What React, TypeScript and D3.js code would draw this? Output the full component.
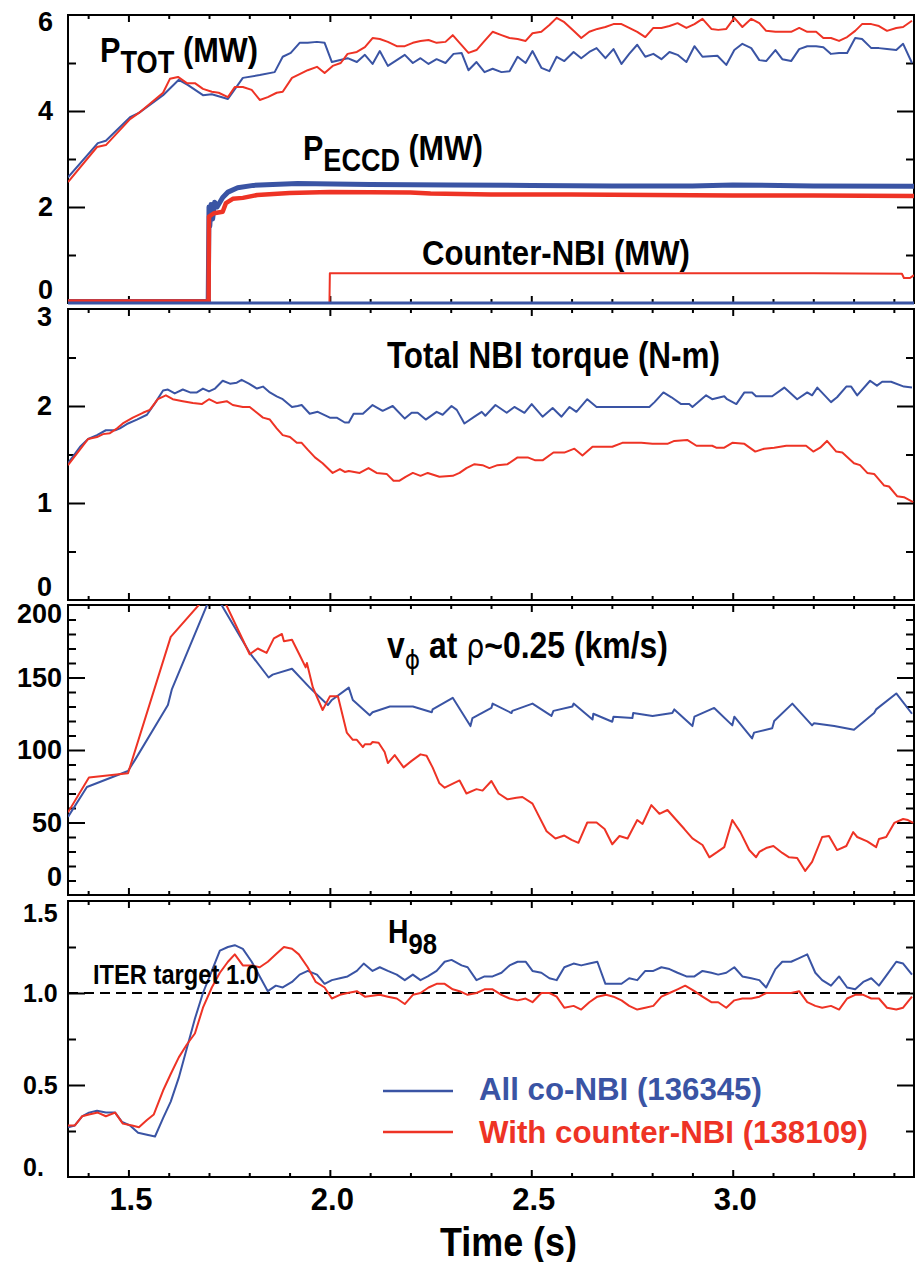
// Four stacked time traces: heating power, NBI torque, rotation and H98
import React, { useEffect, useRef } from 'react'
import * as d3 from 'd3'

const BLUE = '#3a54a4'
const RED = '#ee3325'
const SANS = "'Liberation Sans', Arial, sans-serif"
const GREEK = "'DejaVu Sans', sans-serif"

// all series are [time (s), value]
const ptotCo = [
  [1.35, 2.62], [1.424, 3.33], [1.444, 3.38], [1.504, 3.87], [1.526, 3.96], [1.586, 4.33], [1.625, 4.65],
  [1.648, 4.54], [1.685, 4.33], [1.707, 4.35], [1.747, 4.25], [1.784, 4.69], [1.826, 4.75], [1.863, 4.81],
  [1.883, 5.13], [1.903, 5.21], [1.925, 5.42], [1.945, 5.42], [1.968, 5.44], [1.987, 5.42], [2.005, 5.02],
  [2.044, 5.1], [2.067, 5.02], [2.087, 5.17], [2.106, 4.98], [2.124, 5.25], [2.144, 4.94], [2.166, 5.06],
  [2.186, 5.17], [2.206, 5.0], [2.225, 5.1], [2.245, 4.98], [2.265, 5.08], [2.287, 5.0], [2.307, 5.19],
  [2.327, 5.21], [2.344, 4.85], [2.364, 5.02], [2.384, 4.81], [2.404, 4.88], [2.426, 4.81], [2.446, 4.83],
  [2.466, 5.13], [2.486, 5.0], [2.503, 5.25], [2.525, 4.9], [2.545, 4.83], [2.563, 5.13], [2.582, 5.04],
  [2.605, 5.23], [2.624, 5.1], [2.644, 5.23], [2.662, 5.31], [2.684, 5.1], [2.704, 5.29], [2.724, 4.98],
  [2.743, 5.19], [2.763, 5.38], [2.783, 5.13], [2.803, 5.19], [2.823, 5.08], [2.843, 5.23], [2.863, 5.17],
  [2.885, 5.02], [2.905, 5.35], [2.925, 5.13], [2.962, 5.15], [2.984, 4.96], [3.004, 5.27], [3.024, 5.4],
  [3.046, 5.31], [3.066, 5.06], [3.083, 5.04], [3.106, 5.27], [3.123, 5.08], [3.145, 5.04], [3.165, 5.29],
  [3.185, 5.35], [3.207, 5.35], [3.225, 5.33], [3.244, 5.19], [3.264, 5.21], [3.284, 5.21], [3.304, 5.52],
  [3.321, 5.5], [3.344, 5.31], [3.363, 5.31], [3.383, 5.29], [3.406, 5.27], [3.423, 5.4], [3.445, 5.0],
]
const ptotCounter = [
  [1.35, 2.52], [1.422, 3.25], [1.444, 3.29], [1.504, 3.83], [1.526, 3.96], [1.586, 4.38], [1.603, 4.67],
  [1.623, 4.71], [1.645, 4.58], [1.665, 4.58], [1.685, 4.46], [1.707, 4.4], [1.724, 4.38], [1.747, 4.29],
  [1.764, 4.5], [1.784, 4.5], [1.806, 4.44], [1.826, 4.23], [1.846, 4.29], [1.868, 4.38], [1.883, 4.4],
  [1.906, 4.69], [1.925, 4.77], [1.945, 4.85], [1.968, 4.92], [1.987, 4.79], [2.007, 4.94], [2.027, 5.0],
  [2.044, 5.19], [2.067, 5.23], [2.087, 5.33], [2.106, 5.52], [2.124, 5.5], [2.144, 5.44], [2.166, 5.35],
  [2.186, 5.35], [2.206, 5.42], [2.225, 5.46], [2.245, 5.48], [2.265, 5.42], [2.287, 5.44], [2.305, 5.58],
  [2.322, 5.42], [2.344, 5.21], [2.364, 5.27], [2.384, 5.46], [2.404, 5.65], [2.426, 5.58], [2.446, 5.52],
  [2.466, 5.5], [2.486, 5.46], [2.503, 5.62], [2.525, 5.65], [2.545, 5.79], [2.563, 5.94], [2.582, 5.85],
  [2.605, 5.67], [2.624, 5.52], [2.644, 5.65], [2.664, 5.71], [2.684, 5.75], [2.704, 5.81], [2.724, 5.81],
  [2.743, 5.73], [2.763, 5.65], [2.783, 5.54], [2.803, 5.73], [2.823, 5.73], [2.843, 5.77], [2.863, 5.83],
  [2.885, 5.73], [2.905, 5.81], [2.925, 5.92], [2.947, 5.71], [2.964, 5.69], [2.984, 5.71], [3.004, 5.94],
  [3.024, 5.75], [3.046, 5.92], [3.066, 5.83], [3.083, 5.67], [3.106, 5.65], [3.145, 5.65], [3.165, 5.73],
  [3.185, 5.65], [3.207, 5.65], [3.225, 5.52], [3.244, 5.52], [3.264, 5.46], [3.284, 5.54], [3.304, 5.67],
  [3.321, 5.81], [3.344, 5.81], [3.363, 5.77], [3.383, 5.67], [3.406, 5.73], [3.423, 5.75], [3.445, 5.88],
]
const eccdCo = [
  [1.35, 0.03], [1.698, 0.03], [1.7, 2.0], [1.702, 1.6], [1.705, 2.05], [1.709, 1.75], [1.714, 2.1],
  [1.72, 2.0], [1.734, 2.2], [1.747, 2.31], [1.771, 2.4], [1.81, 2.45], [1.92, 2.49], [2.1, 2.47],
  [2.3, 2.46], [2.5, 2.45], [2.7, 2.44], [2.9, 2.44], [3.0, 2.46], [3.2, 2.44], [3.45, 2.43],
]
const eccdCounter = [
  [1.35, 0.03], [1.699, 0.03], [1.7, 1.8], [1.712, 1.87], [1.734, 1.9], [1.742, 2.08], [1.759, 2.17],
  [1.784, 2.19], [1.82, 2.25], [1.9, 2.29], [2.0, 2.31], [2.2, 2.3], [2.25, 2.28], [2.4, 2.26],
  [2.6, 2.26], [2.8, 2.25], [3.0, 2.24], [3.2, 2.24], [3.45, 2.23],
]
const counterNbiCo = [[1.35, 0], [3.45, 0]]
const counterNbiCounter = [
  [1.35, 0], [1.999, 0], [2.0, 0.62], [3.2, 0.62], [3.42, 0.61], [3.425, 0.52], [3.44, 0.52], [3.45, 0.58],
]

const torqueCo = [
  [1.35, 1.41], [1.38, 1.58], [1.4, 1.66], [1.422, 1.7], [1.444, 1.75], [1.467, 1.75], [1.479, 1.77],
  [1.499, 1.82], [1.521, 1.86], [1.546, 1.91], [1.566, 2.03], [1.586, 2.16], [1.598, 2.17], [1.615, 2.13],
  [1.635, 2.17], [1.653, 2.14], [1.67, 2.14], [1.685, 2.18], [1.7, 2.15], [1.715, 2.18], [1.734, 2.26],
  [1.752, 2.23], [1.769, 2.24], [1.781, 2.27], [1.799, 2.23], [1.819, 2.18], [1.834, 2.2], [1.851, 2.14],
  [1.868, 2.1], [1.883, 2.07], [1.906, 1.99], [1.92, 2.0], [1.93, 2.01], [1.95, 1.92], [1.97, 1.94],
  [2.0, 1.88], [2.017, 1.88], [2.037, 1.83], [2.047, 1.83], [2.059, 1.92], [2.082, 1.92], [2.106, 2.01],
  [2.131, 1.95], [2.156, 2.0], [2.186, 1.87], [2.203, 1.93], [2.218, 1.93], [2.238, 1.86], [2.265, 1.94],
  [2.28, 1.91], [2.302, 2.0], [2.315, 1.96], [2.334, 1.82], [2.359, 1.89], [2.377, 1.94], [2.386, 1.9],
  [2.411, 2.01], [2.439, 1.93], [2.458, 1.99], [2.483, 1.93], [2.501, 2.02], [2.528, 1.89], [2.553, 1.98],
  [2.575, 1.89], [2.595, 1.99], [2.612, 1.94], [2.639, 2.07], [2.662, 1.99], [2.726, 1.99], [2.793, 1.99],
  [2.806, 2.04], [2.828, 2.14], [2.848, 2.09], [2.872, 2.02], [2.892, 2.02], [2.9, 1.99], [2.934, 2.11],
  [2.949, 2.07], [2.979, 2.1], [2.986, 2.07], [3.009, 2.02], [3.029, 2.14], [3.048, 2.14], [3.058, 2.1],
  [3.098, 2.1], [3.128, 2.19], [3.16, 2.07], [3.185, 2.14], [3.197, 2.11], [3.21, 2.19], [3.244, 2.04],
  [3.259, 2.09], [3.282, 2.2], [3.294, 2.2], [3.309, 2.11], [3.341, 2.26], [3.358, 2.21], [3.371, 2.25],
  [3.393, 2.25], [3.425, 2.2], [3.445, 2.19],
]
const torqueCounter = [
  [1.35, 1.39], [1.4, 1.66], [1.422, 1.68], [1.437, 1.71], [1.454, 1.72], [1.472, 1.77], [1.486, 1.82],
  [1.511, 1.88], [1.536, 1.93], [1.553, 1.96], [1.573, 2.07], [1.593, 2.11], [1.61, 2.07], [1.635, 2.05],
  [1.66, 2.03], [1.682, 2.02], [1.7, 2.07], [1.72, 2.03], [1.744, 2.05], [1.759, 2.01], [1.784, 1.99],
  [1.801, 1.99], [1.819, 1.93], [1.834, 1.88], [1.851, 1.86], [1.868, 1.77], [1.883, 1.7], [1.901, 1.68],
  [1.918, 1.62], [1.93, 1.62], [1.945, 1.55], [1.963, 1.47], [1.982, 1.41], [2.007, 1.31], [2.025, 1.35],
  [2.037, 1.32], [2.047, 1.33], [2.074, 1.31], [2.096, 1.36], [2.116, 1.31], [2.141, 1.3], [2.158, 1.23],
  [2.173, 1.23], [2.188, 1.27], [2.206, 1.31], [2.225, 1.28], [2.243, 1.31], [2.272, 1.27], [2.305, 1.28],
  [2.322, 1.31], [2.339, 1.36], [2.359, 1.4], [2.379, 1.39], [2.396, 1.36], [2.416, 1.39], [2.441, 1.4],
  [2.466, 1.47], [2.491, 1.47], [2.51, 1.44], [2.528, 1.44], [2.555, 1.52], [2.582, 1.52], [2.607, 1.56],
  [2.627, 1.49], [2.652, 1.58], [2.701, 1.58], [2.726, 1.62], [2.773, 1.62], [2.801, 1.61], [2.838, 1.61],
  [2.855, 1.64], [2.887, 1.65], [2.91, 1.59], [2.949, 1.59], [2.959, 1.57], [2.979, 1.57], [2.999, 1.62],
  [3.029, 1.61], [3.056, 1.53], [3.078, 1.56], [3.103, 1.57], [3.133, 1.59], [3.182, 1.59], [3.2, 1.53],
  [3.217, 1.57], [3.234, 1.64], [3.257, 1.53], [3.272, 1.52], [3.301, 1.41], [3.316, 1.39], [3.334, 1.31],
  [3.351, 1.3], [3.376, 1.18], [3.388, 1.17], [3.408, 1.07], [3.425, 1.06], [3.448, 1.01],
]

const vphiCo = [
  [1.35, 53.8], [1.397, 74.5], [1.499, 85.5], [1.516, 93], [1.598, 131], [1.608, 142], [1.71, 210],
  [1.801, 167], [1.848, 150], [1.858, 152], [1.906, 156], [1.95, 143], [1.995, 131], [2.005, 134.5],
  [2.047, 143], [2.057, 134.5], [2.099, 124], [2.106, 126], [2.149, 130], [2.206, 130], [2.253, 126],
  [2.255, 128], [2.305, 136], [2.349, 116.5], [2.354, 122], [2.401, 129], [2.404, 132], [2.451, 125.5],
  [2.453, 127], [2.503, 132], [2.55, 123.5], [2.555, 127], [2.602, 130], [2.605, 132], [2.652, 121],
  [2.654, 125], [2.701, 119.5], [2.704, 123], [2.751, 122], [2.753, 125.5], [2.801, 123.5], [2.85, 125.5],
  [2.855, 128], [2.9, 116.5], [2.905, 123], [2.954, 129], [2.999, 117], [3.004, 123], [3.048, 108],
  [3.053, 112], [3.098, 115], [3.103, 120], [3.148, 132], [3.197, 117], [3.202, 118.5], [3.252, 116.5],
  [3.301, 114], [3.351, 125.5], [3.356, 128], [3.406, 139], [3.445, 125],
]
const vphiCounter = [
  [1.35, 57], [1.402, 81], [1.499, 84], [1.605, 178], [1.719, 214], [1.801, 166], [1.821, 170],
  [1.843, 167], [1.861, 177], [1.881, 180], [1.886, 175], [1.906, 176], [1.925, 165.5], [1.94, 157],
  [1.943, 160], [1.958, 143], [1.982, 127.6], [2.0, 137], [2.02, 137], [2.042, 112], [2.057, 107],
  [2.067, 107], [2.082, 102], [2.087, 104], [2.101, 104], [2.106, 105.5], [2.121, 105], [2.136, 98.6],
  [2.144, 91], [2.161, 96.5], [2.183, 88], [2.203, 92.5], [2.225, 97], [2.24, 96], [2.255, 88], [2.272, 77],
  [2.285, 74], [2.322, 79], [2.339, 70], [2.364, 73], [2.379, 72], [2.401, 78.6], [2.419, 70], [2.441, 66],
  [2.463, 67], [2.478, 67.6], [2.503, 63], [2.538, 44], [2.56, 39], [2.582, 41], [2.6, 38], [2.617, 36],
  [2.639, 50], [2.662, 50], [2.682, 45.5], [2.701, 35], [2.719, 40.7], [2.739, 39], [2.763, 51.7],
  [2.776, 49], [2.798, 62], [2.818, 56], [2.838, 58.6], [2.86, 51.7], [2.88, 45.5], [2.9, 39], [2.925, 34.5],
  [2.942, 26], [2.962, 29.7], [2.979, 33], [2.999, 51.7], [3.019, 43.4], [3.041, 31], [3.058, 26],
  [3.066, 29.7], [3.083, 32.4], [3.101, 33.8], [3.123, 29], [3.14, 26], [3.16, 25.5], [3.18, 16.6],
  [3.197, 22.8], [3.222, 40], [3.239, 40.7], [3.259, 31], [3.282, 33.8], [3.299, 43.4], [3.309, 40],
  [3.334, 37], [3.356, 33], [3.363, 38.6], [3.381, 40], [3.401, 49.7], [3.423, 52.4], [3.435, 51.7],
  [3.448, 49.7],
]

const h98Co = [
  [1.35, 0.27], [1.367, 0.28], [1.385, 0.33], [1.402, 0.35], [1.422, 0.36], [1.444, 0.35], [1.467, 0.35],
  [1.484, 0.3], [1.504, 0.28], [1.524, 0.24], [1.546, 0.23], [1.566, 0.22], [1.586, 0.32], [1.605, 0.41],
  [1.625, 0.54], [1.645, 0.7], [1.665, 0.86], [1.685, 1.0], [1.707, 1.12], [1.727, 1.23], [1.747, 1.25],
  [1.764, 1.26], [1.784, 1.24], [1.806, 1.17], [1.826, 1.09], [1.846, 1.01], [1.866, 1.04], [1.883, 1.03],
  [1.906, 1.06], [1.925, 1.1], [1.945, 1.12], [1.968, 1.1], [1.987, 1.05], [2.005, 1.07], [2.025, 1.08],
  [2.044, 1.09], [2.067, 1.12], [2.084, 1.16], [2.106, 1.12], [2.124, 1.14], [2.144, 1.12], [2.166, 1.1],
  [2.186, 1.07], [2.206, 1.1], [2.225, 1.07], [2.243, 1.09], [2.265, 1.12], [2.285, 1.17], [2.302, 1.18],
  [2.327, 1.15], [2.342, 1.14], [2.364, 1.07], [2.384, 1.09], [2.404, 1.09], [2.426, 1.11], [2.446, 1.15],
  [2.466, 1.17], [2.486, 1.17], [2.503, 1.12], [2.525, 1.11], [2.545, 1.08], [2.563, 1.07], [2.582, 1.14],
  [2.605, 1.16], [2.624, 1.15], [2.644, 1.16], [2.664, 1.17], [2.684, 1.05], [2.704, 1.05], [2.724, 1.05],
  [2.743, 1.08], [2.763, 1.07], [2.783, 1.12], [2.803, 1.12], [2.823, 1.14], [2.843, 1.13], [2.863, 1.11],
  [2.885, 1.09], [2.905, 1.09], [2.925, 1.12], [2.947, 1.11], [2.964, 1.1], [2.984, 1.11], [3.004, 1.14],
  [3.024, 1.09], [3.046, 1.08], [3.066, 1.07], [3.083, 1.03], [3.106, 1.13], [3.123, 1.17], [3.145, 1.17],
  [3.165, 1.19], [3.185, 1.21], [3.205, 1.11], [3.222, 1.07], [3.244, 1.04], [3.264, 1.09], [3.284, 1.03],
  [3.304, 1.02], [3.324, 1.06], [3.344, 1.08], [3.363, 1.04], [3.383, 1.1], [3.406, 1.17], [3.423, 1.16],
  [3.445, 1.1],
]
const h98Counter = [
  [1.35, 0.28], [1.367, 0.28], [1.385, 0.33], [1.402, 0.34], [1.424, 0.35], [1.444, 0.33], [1.467, 0.35],
  [1.486, 0.29], [1.509, 0.28], [1.526, 0.27], [1.546, 0.31], [1.563, 0.34], [1.586, 0.47], [1.605, 0.56],
  [1.625, 0.65], [1.645, 0.72], [1.665, 0.78], [1.685, 0.92], [1.707, 1.03], [1.727, 1.11], [1.747, 1.17],
  [1.764, 1.21], [1.784, 1.15], [1.806, 1.15], [1.826, 1.14], [1.846, 1.17], [1.866, 1.21], [1.886, 1.25],
  [1.906, 1.24], [1.923, 1.21], [1.945, 1.14], [1.965, 1.06], [1.987, 1.03], [2.005, 0.97], [2.025, 0.99],
  [2.044, 1.0], [2.067, 1.01], [2.087, 0.98], [2.124, 0.99], [2.144, 0.98], [2.166, 0.97], [2.186, 0.94],
  [2.206, 0.99], [2.225, 1.0], [2.245, 1.03], [2.265, 1.05], [2.285, 1.05], [2.305, 1.02], [2.322, 1.01],
  [2.342, 0.99], [2.364, 1.0], [2.384, 1.02], [2.404, 1.02], [2.426, 0.99], [2.446, 0.97], [2.466, 0.96],
  [2.486, 0.97], [2.503, 0.95], [2.525, 1.0], [2.545, 1.0], [2.563, 0.98], [2.582, 0.92], [2.605, 0.93],
  [2.624, 0.91], [2.644, 0.95], [2.664, 0.98], [2.686, 0.99], [2.704, 0.98], [2.724, 0.96], [2.743, 0.93],
  [2.763, 0.91], [2.783, 0.92], [2.803, 0.93], [2.823, 0.98], [2.843, 1.0], [2.863, 1.02], [2.882, 1.04],
  [2.905, 1.01], [2.925, 0.98], [2.947, 0.95], [2.964, 0.95], [2.984, 0.92], [3.004, 0.96], [3.024, 0.97],
  [3.046, 0.97], [3.066, 0.98], [3.083, 1.0], [3.123, 1.0], [3.145, 1.0], [3.165, 1.01], [3.185, 0.95],
  [3.205, 0.93], [3.222, 0.92], [3.244, 0.93], [3.264, 0.91], [3.284, 0.97], [3.304, 0.99], [3.324, 0.99],
  [3.344, 0.97], [3.363, 0.97], [3.383, 0.92], [3.406, 0.91], [3.423, 0.92], [3.445, 0.98],
]
const iterTarget = 1.0

// axis ticks
const xMajor = [1.5, 2.0, 2.5, 3.0]
const xMinor = [1.4, 1.6, 1.7, 1.8, 1.9, 2.1, 2.2, 2.3, 2.4, 2.6, 2.7, 2.8, 2.9, 3.1, 3.2, 3.3, 3.4]
const legendLabels = ['All co-NBI (136345)', 'With counter-NBI (138109)']

export default function App() {
  const ref = useRef<SVGSVGElement>(null)

  useEffect(() => {
    const svg = d3.select(ref.current)
    svg.selectAll('*').remove()

    const left = 68
    const right = 914
    const x = d3.scaleLinear().domain([1.35, 3.45]).range([left, right])

    const panels = [
      { top: 15, bottom: 303, max: 6, major: [2, 4], minor: [1, 3, 5], labels: [0, 2, 4, 6],
        fmt: (d) => String(d), lx: -15, anchor: 'end', fs: 27, ends: [-13, 7] },
      { top: 309, bottom: 600, max: 3, major: [1, 2], minor: [0.5, 1.5, 2.5], labels: [0, 1, 2, 3],
        fmt: (d) => String(d), lx: -16, anchor: 'end', fs: 27, ends: [-13, 8] },
      { top: 605, bottom: 895, max: 200, major: [50, 100, 150],
        minor: d3.range(10, 200, 10).filter((d) => d % 50 !== 0), labels: [0, 50, 100, 150, 200],
        fmt: (d) => String(d), lx: -6, anchor: 'end', fs: 27, ends: [-18, 9] },
      { top: 901, bottom: 1177, max: 1.5, major: [0.5, 1.0], minor: [0.25, 0.75, 1.25], labels: [0, 0.5, 1.0, 1.5],
        fmt: (d) => (d === 0 ? '0.' : d.toFixed(1)), lx: -45, anchor: 'start', fs: 25, ends: [-10, 12] },
    ]

    const ys = panels.map((p) => d3.scaleLinear().domain([0, p.max]).range([p.bottom, p.top]))

    panels.forEach((p, i) => {
      const y = ys[i]
      const g = svg.append('g')

      svg.append('clipPath').attr('id', 'clip' + i)
        .append('rect').attr('x', left).attr('y', p.top).attr('width', right - left).attr('height', p.bottom - p.top)

      // inward ticks on all four sides
      const tick = (axis, tx, ty) => {
        const a = g.append('g').attr('transform', `translate(${tx},${ty})`).call(axis)
        a.select('.domain').remove()
        a.selectAll('line').attr('stroke', '#000').attr('stroke-width', 2)
      }
      tick(d3.axisRight(y).tickValues(p.major).tickSize(17).tickFormat(() => ''), left, 0)
      tick(d3.axisRight(y).tickValues(p.minor).tickSize(8).tickFormat(() => ''), left, 0)
      tick(d3.axisLeft(y).tickValues(p.major).tickSize(17).tickFormat(() => ''), right, 0)
      tick(d3.axisLeft(y).tickValues(p.minor).tickSize(8).tickFormat(() => ''), right, 0)
      tick(d3.axisBottom(x).tickValues(xMajor).tickSize(7).tickFormat(() => ''), 0, p.top)
      tick(d3.axisBottom(x).tickValues(xMinor).tickSize(4).tickFormat(() => ''), 0, p.top)
      tick(d3.axisTop(x).tickValues(xMajor).tickSize(7).tickFormat(() => ''), 0, p.bottom)
      tick(d3.axisTop(x).tickValues(xMinor).tickSize(4).tickFormat(() => ''), 0, p.bottom)

      // y labels
      const lab = g.append('g').attr('transform', `translate(${left},0)`)
        .call(d3.axisLeft(y).tickValues(p.labels).tickSize(0).tickPadding(0).tickFormat(p.fmt))
      lab.select('.domain').remove()
      lab.selectAll('text')
        .attr('x', p.lx)
        .attr('text-anchor', p.anchor)
        .attr('y', (d) => (d === 0 ? p.ends[0] : d === p.max ? p.ends[1] : 0))
        .style('font-family', SANS)
        .style('font-weight', 'bold')
        .style('font-size', p.fs + 'px')
        .style('fill', '#000')

      g.append('rect')
        .attr('x', left).attr('y', p.top).attr('width', right - left).attr('height', p.bottom - p.top)
        .attr('fill', 'none').attr('stroke', '#000').attr('stroke-width', 2)
    })

    const drawLine = (panel, data, color, width = 2, clip = true) => {
      const y = ys[panel]
      const line = d3.line().x((d) => x(d[0])).y((d) => y(d[1]))
      svg.append('path')
        .datum(data)
        .attr('d', line)
        .attr('fill', 'none')
        .attr('stroke', color)
        .attr('stroke-width', width)
        .attr('stroke-linejoin', 'round')
        .attr('clip-path', clip ? `url(#clip${panel})` : null)
    }

    drawLine(0, counterNbiCounter, RED, 2)
    drawLine(0, ptotCo, BLUE)
    drawLine(0, ptotCounter, RED)
    drawLine(0, eccdCo, BLUE, 5)
    drawLine(0, eccdCounter, RED, 4.5)
    drawLine(0, counterNbiCo, BLUE, 3, false)

    drawLine(1, torqueCo, BLUE)
    drawLine(1, torqueCounter, RED)

    drawLine(2, vphiCo, BLUE)
    drawLine(2, vphiCounter, RED)

    // ITER target
    svg.append('line')
      .attr('x1', left).attr('x2', right)
      .attr('y1', ys[3](iterTarget)).attr('y2', ys[3](iterTarget))
      .attr('stroke', '#000').attr('stroke-width', 2).attr('stroke-dasharray', '10,6')
    drawLine(3, h98Co, BLUE)
    drawLine(3, h98Counter, RED)

    // x labels
    const xl = svg.append('g').attr('transform', `translate(0,${panels[3].bottom})`)
      .call(d3.axisBottom(x).tickValues(xMajor).tickSize(0).tickFormat(d3.format('.1f')))
    xl.select('.domain').remove()
    xl.selectAll('text')
      .attr('y', 33).attr('dy', 0).attr('x', 2)
      .style('font-family', SANS).style('font-weight', 'bold').style('font-size', '31px').style('fill', '#000')

    // condensed bold text: measured, then squeezed horizontally to the reference width
    const label = (tx, ty, size, width, build, color = '#000') => {
      const g = svg.append('g')
      const t = g.append('text').attr('x', 0).attr('y', 0)
        .style('font-family', SANS).style('font-weight', 'bold').style('font-size', size + 'px')
        .style('fill', color)
      if (typeof build === 'string') t.text(build)
      else build(t)
      const w = (t.node() as SVGTextElement).getComputedTextLength() || width
      g.attr('transform', `translate(${tx},${ty}) scale(${width / w},1)`)
    }
    const sub = (name, size) => (t) => {
      t.append('tspan').text('P')
      t.append('tspan').attr('dy', 11).style('font-size', size + 'px').text(name)
      t.append('tspan').attr('dy', -11).text(' (MW)')
    }

    label(100, 62, 35, 158, sub('TOT', 31))
    label(303, 160, 35, 180, sub('ECCD', 31))
    label(422, 265, 35, 268, 'Counter-NBI (MW)')
    label(387, 368, 37, 333, 'Total NBI torque (N-m)')
    label(387, 658, 37, 281, (t) => {
      t.append('tspan').text('v')
      t.append('tspan').attr('dy', 11).style('font-family', GREEK)
        .style('font-weight', 'normal').style('font-size', '27px').text('\u03D5')
      t.append('tspan').attr('dy', -11).text(' at ')
      t.append('tspan').style('font-family', GREEK).style('font-weight', 'normal')
        .style('font-size', '33px').text('\u03C1')
      t.append('tspan').text('~0.25 (km/s)')
    })
    label(388, 943, 33, 49, (t) => {
      t.append('tspan').text('H')
      t.append('tspan').attr('dy', 11).style('font-size', '30px').text('98')
    })
    label(93, 984, 27, 166, 'ITER target 1.0')

    // legend
    const legend = [
      { color: BLUE, y: 1091, ty: 1100, width: 283 },
      { color: RED, y: 1132, ty: 1143, width: 389 },
    ]
    legend.forEach((l, i) => {
      svg.append('line').attr('x1', 383).attr('x2', 453).attr('y1', l.y).attr('y2', l.y)
        .attr('stroke', l.color).attr('stroke-width', 2.5)
      label(479, l.ty, 32, l.width, legendLabels[i], l.color)
    })

    label(440, 1256, 41, 137, 'Time (s)')
  }, [])

  return (
    <svg
      ref={ref}
      width={917}
      height={1262}
      style={{ position: 'absolute', left: 0, top: 0, background: '#fff' }}
    />
  )
}
